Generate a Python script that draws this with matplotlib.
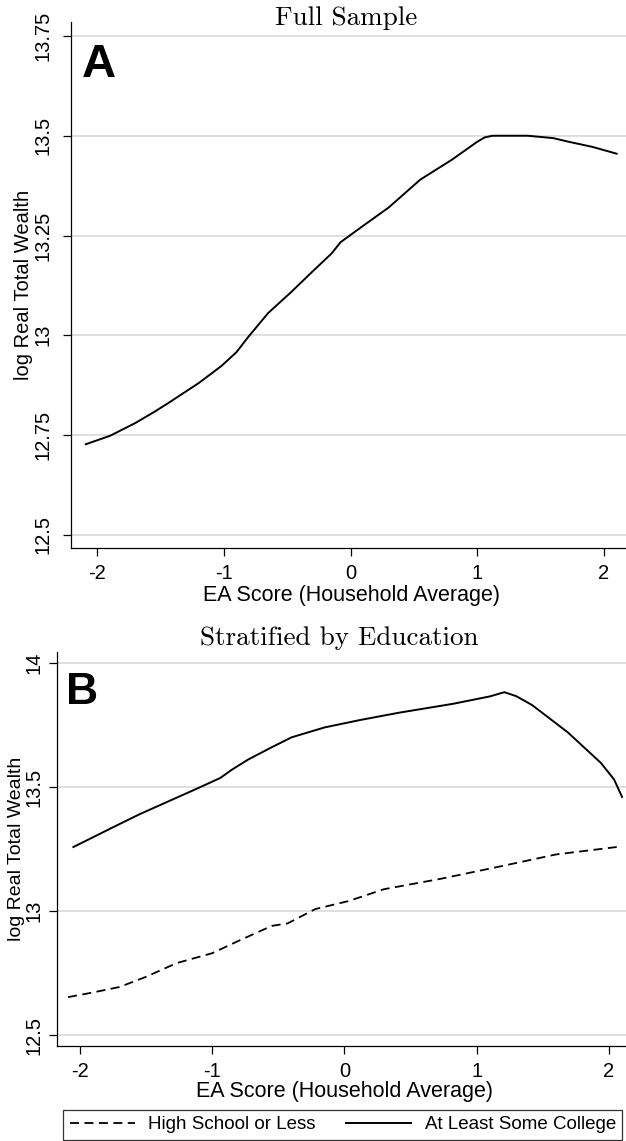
import matplotlib
matplotlib.use('Agg')
import matplotlib.pyplot as plt

plt.rcParams.update({
    'font.family': ['Liberation Sans', 'DejaVu Sans'],
    'font.size': 14,
    'axes.linewidth': 0.9,
})

# Panel A: full sample
ea_full = [-2.09, -1.90, -1.70, -1.55, -1.44, -1.20, -1.02, -0.90, -0.81, -0.65, -0.47, -0.30,
           -0.15, -0.08, 0.08, 0.30, 0.55, 0.80, 1.00, 1.06, 1.12, 1.40, 1.60, 1.72, 1.91, 2.10]
wealth_full = [12.727, 12.748, 12.780, 12.808, 12.830, 12.880, 12.923, 12.958, 12.995, 13.056, 13.108, 13.160,
               13.205, 13.233, 13.270, 13.320, 13.390, 13.440, 13.485, 13.496, 13.500, 13.500, 13.494, 13.485, 13.472, 13.455]

# Panel B: stratified by education
ea_hs = [-2.09, -1.90, -1.70, -1.50, -1.27, -1.00, -0.80, -0.55, -0.43, -0.22,
         0.03, 0.30, 0.73, 1.18, 1.60, 2.06]
wealth_hs = [12.653, 12.672, 12.694, 12.735, 12.790, 12.830, 12.880, 12.940, 12.950, 13.008,
             13.040, 13.088, 13.130, 13.180, 13.228, 13.258]

ea_col = [-2.05, -1.76, -1.55, -1.34, -1.15, -0.94, -0.85, -0.73, -0.55, -0.40,
          -0.15, 0.12, 0.42, 0.82, 1.10, 1.21, 1.30, 1.42, 1.69, 1.94, 2.04, 2.10]
wealth_col = [13.258, 13.335, 13.390, 13.440, 13.485, 13.536, 13.570, 13.610, 13.660, 13.700,
              13.740, 13.770, 13.800, 13.835, 13.865, 13.882, 13.866, 13.830, 13.720, 13.597, 13.530, 13.460]

W, H = 626, 1141
fig = plt.figure(figsize=(W / 100, H / 100), dpi=100)
fig.patch.set_facecolor('white')


def px_axes(left, top, right, bottom):
    return fig.add_axes([left / W, 1 - bottom / H, (right - left) / W, (bottom - top) / H])


def style(ax, yticks, ylabels, ylab_x, xlab_y, ypad, ylab_size):
    ax.spines['top'].set_visible(False)
    ax.spines['right'].set_visible(False)
    ax.set_yticks(yticks)
    ax.set_yticklabels(ylabels, rotation=90, va='center')
    ax.set_xticks([-2, -1, 0, 1, 2])
    ax.set_xticklabels(['-2', '-1', '0', '1', '2'])
    ax.tick_params(length=5.5, width=0.9, labelsize=14.5)
    ax.tick_params(axis='y', pad=ypad)
    ax.tick_params(axis='x', pad=6)
    ax.grid(True, axis='y', color='#dcdcdc', lw=1.3)
    ax.set_axisbelow(True)
    ax.set_xlabel('EA Score (Household Average)', fontsize=15.5)
    ax.set_ylabel('log Real Total Wealth', fontsize=ylab_size)
    ax.yaxis.set_label_coords(ylab_x, 0.5)
    ax.xaxis.set_label_coords(0.505, xlab_y)


# ---- Panel A ----
ax1 = px_axes(71, 22, 626, 548)
ax1.plot(ea_full, wealth_full, color='black', lw=1.4)
ax1.set_xlim(-2.207, 2.174)
ax1.set_ylim(12.467, 13.785)
style(ax1, [12.5, 12.75, 13, 13.25, 13.5, 13.75], ['12.5', '12.75', '13', '13.25', '13.5', '13.75'],
      -0.068, -0.070, 7.5, 14.5)
fig.text(346 / W, 1 - 18 / H, 'Full Sample', family='cmr10', fontsize=19.5, ha='center', va='center')
fig.text(82 / W, 1 - 65 / H, 'A', fontsize=34, fontweight='bold', ha='left', va='center')

# ---- Panel B ----
ax2 = px_axes(57, 652, 626, 1046)
ln_hs, = ax2.plot(ea_hs, wealth_hs, color='black', lw=1.3, ls=(0, (5, 3)), label='High School or Less')
ln_col, = ax2.plot(ea_col, wealth_col, color='black', lw=1.4, label='At Least Some College')
ax2.set_xlim(-2.174, 2.13)
ax2.set_ylim(12.456, 14.044)
style(ax2, [12.5, 13, 13.5, 14], ['12.5', '13', '13.5', '14'], -0.057, -0.090, 4.0, 14)
fig.text(339 / W, 1 - 638 / H, 'Stratified by Education', family='cmr10', fontsize=19.5, ha='center', va='center')
fig.text(66 / W, 1 - 692 / H, 'B', fontsize=32, fontweight='bold', ha='left', va='center')

leg = fig.legend(handles=[ln_hs, ln_col], loc='lower left', ncol=2,
                 bbox_to_anchor=(63 / W, 1 / H),
                 frameon=True, fancybox=False, edgecolor='black', fontsize=13.5,
                 handlelength=3.5, handletextpad=0.7, columnspacing=1.6,
                 borderpad=0.35, borderaxespad=0)
leg.get_frame().set_linewidth(0.9)

plt.savefig('out.png', dpi=100, facecolor='white')
